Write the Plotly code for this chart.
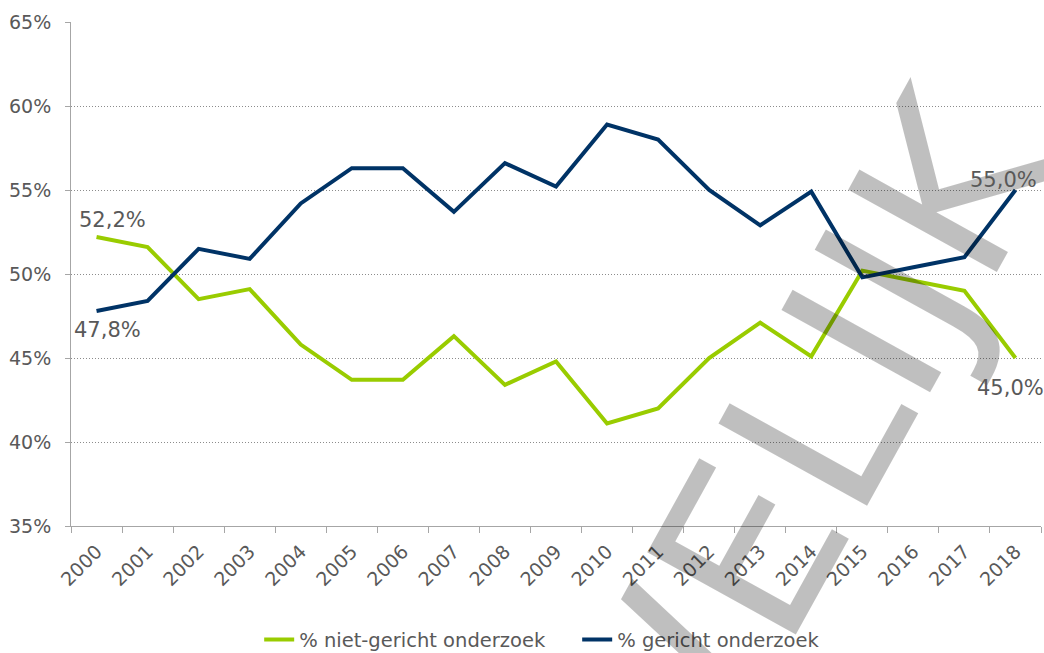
import plotly.graph_objects as go

# values (percent)
years = [str(y) for y in range(2000, 2019)]
niet_gericht = [52.2, 51.6, 48.5, 49.1, 45.8, 43.7, 43.7, 46.3, 43.4, 44.8,
                41.1, 42.0, 45.0, 47.1, 45.1, 50.2, 49.6, 49.0, 45.0]
gericht = [47.8, 48.4, 51.5, 50.9, 54.2, 56.3, 56.3, 53.7, 56.6, 55.2,
           58.9, 58.0, 55.0, 52.9, 54.9, 49.8, 50.4, 51.0, 55.0]
y_ticks = [35, 40, 45, 50, 55, 60, 65]
y_ticktext = [f"{v}%" for v in y_ticks]

GREEN = '#99cc00'
NAVY = '#003366'
TXT = '#595959'
AXIS = '#a6a6a6'
FONT = 'DejaVu Sans'
FS = 19

fig = go.Figure()
fig.add_trace(go.Scatter(x=years, y=niet_gericht, name='% niet-gericht onderzoek',
                         mode='lines', line={'color': GREEN, 'width': 4}))
fig.add_trace(go.Scatter(x=years, y=gericht, name='% gericht onderzoek',
                         mode='lines', line={'color': NAVY, 'width': 4}))

# watermark (added first so the data labels sit on top of it)
fig.add_annotation(xref='paper', yref='paper', x=0.472, y=-0.843,
                   xanchor='center', yanchor='middle',
                   text='VERTROUWELIJK', showarrow=False, textangle=-61,
                   font={'family': FONT, 'size': 233, 'color': 'rgba(0,0,0,0.25)'})

def pct(v):
    return f"{v:.1f}".replace('.', ',') + '%'

# data labels on first and last points (x given as category index)
first, last = 0, len(years) - 1
labels = [
    (first, niet_gericht[first], 16, 17),
    (first, gericht[first], 11, -19),
    (last, gericht[last], -12, 10),
    (last, niet_gericht[last], -5, -30),
]
for x, y, dx, dy in labels:
    fig.add_annotation(x=x, y=y, text=pct(y), showarrow=False,
                       xshift=dx, yshift=dy,
                       font={'family': FONT, 'size': 21, 'color': TXT})

fig.update_xaxes(type='category', range=[-0.5, len(years) - 0.5],
                 showline=True, linecolor=AXIS, linewidth=1,
                 ticks='outside', tickson='boundaries', ticklen=6,
                 tickcolor=AXIS, tickangle=-45, showgrid=False,
                 ticklabelstandoff=6, automargin=False,
                 tickfont={'family': FONT, 'size': FS, 'color': TXT})
fig.update_yaxes(range=[35, 65], tickmode='array', tickvals=y_ticks,
                 ticktext=y_ticktext, ticklabelstandoff=10, automargin=False,
                 showline=True, linecolor=AXIS, linewidth=1,
                 ticks='outside', ticklen=5, tickcolor=AXIS,
                 showgrid=True, gridcolor='#8c8c8c', griddash='1px,2px', gridwidth=1,
                 zeroline=False,
                 tickfont={'family': FONT, 'size': FS, 'color': TXT})
fig.update_layout(width=1044, height=653,
                  margin={'l': 71, 'r': 3, 't': 22, 'b': 127, 'autoexpand': False},
                  plot_bgcolor='white', paper_bgcolor='white',
                  showlegend=True,
                  legend={'orientation': 'h', 'x': 0.194, 'xanchor': 'left',
                          'y': -0.226, 'yanchor': 'middle', 'entrywidth': 273,
                          'font': {'family': FONT, 'size': 19.5, 'color': TXT}})

# the page's default body margin would shift the figure by 8px
fig.write_html("out.html", config={'displayModeBar': False},
               post_script="document.body.style.margin='0';")
